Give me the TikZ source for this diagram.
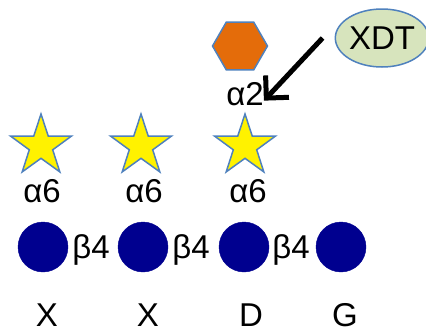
\documentclass[tikz,border=0pt]{standalone}
\usepackage{fontspec}
\setmainfont{Liberation Sans}
\usetikzlibrary{shapes.geometric,arrows.meta}
\definecolor{edgeblue}{HTML}{4F81BD}
\definecolor{subnavy}{HTML}{00008F}
\definecolor{hexorange}{HTML}{E46C0A}
\definecolor{ligandgreen}{HTML}{D7E4BD}
\tikzset{
  lbl/.style={font=\fontsize{33}{38}\selectfont, inner sep=0pt, anchor=base},
  beta/.style={circle, fill=subnavy, draw=subnavy, minimum size=50pt, inner sep=0pt},
  alphasix/.style={star, star points=5, star point ratio=2.6, fill=yellow, draw=edgeblue,
    line width=1.5pt, minimum size=64pt, inner sep=0pt},
  alphatwo/.style={regular polygon, regular polygon sides=6, fill=hexorange, draw=edgeblue,
    line width=1.5pt, minimum size=55pt, inner sep=0pt},
  ligand/.style={ellipse, fill=ligandgreen, draw=edgeblue, line width=1.5pt,
    minimum width=92pt, minimum height=58pt, inner sep=0pt,
    font=\fontsize{33}{38}\selectfont},
  binds/.style={line width=5pt, -{Straight Barb[length=16pt,width=32pt]}}
}
\begin{document}
\begin{tikzpicture}[x=1pt,y=-1pt]
\useasboundingbox (0,0) rectangle (426,333);

% alpha2 subunit and the ligand
\node[alphatwo] (hex) at (240,46) {};
\node[lbl] (a2) at (245,105) {α2};
\node[ligand] (xdt) at (382,38) {XDT};
\draw[binds] ([xshift=-12pt]xdt.west) -- ([xshift=0pt,yshift=-7pt]a2.east);

% alpha6 subunits
\node[alphasix] (s1) at (41,146) {};
\node[alphasix] (s2) at (141,146) {};
\node[alphasix] (s3) at (245,146) {};
\node[lbl] (l1) at (42,202) {α6};
\node[lbl] (l2) at (144,202) {α6};
\node[lbl] (l3) at (248,202) {α6};

% beta4 subunits
\node[beta] (c1) at (43,247) {};
\node[beta] (c2) at (143,247) {};
\node[beta] (c3) at (244,247) {};
\node[beta] (c4) at (341,247) {};
\node[lbl] (b1) at (91,258) {β4};
\node[lbl] (b2) at (191,258) {β4};
\node[lbl] (b3) at (291,258) {β4};

% bottom letters
\node[lbl] (x1) at (47,326) {X};
\node[lbl] (x2) at (148,326) {X};
\node[lbl] (x3) at (251,326) {D};
\node[lbl] (x4) at (345,326) {G};
\end{tikzpicture}
\end{document}
